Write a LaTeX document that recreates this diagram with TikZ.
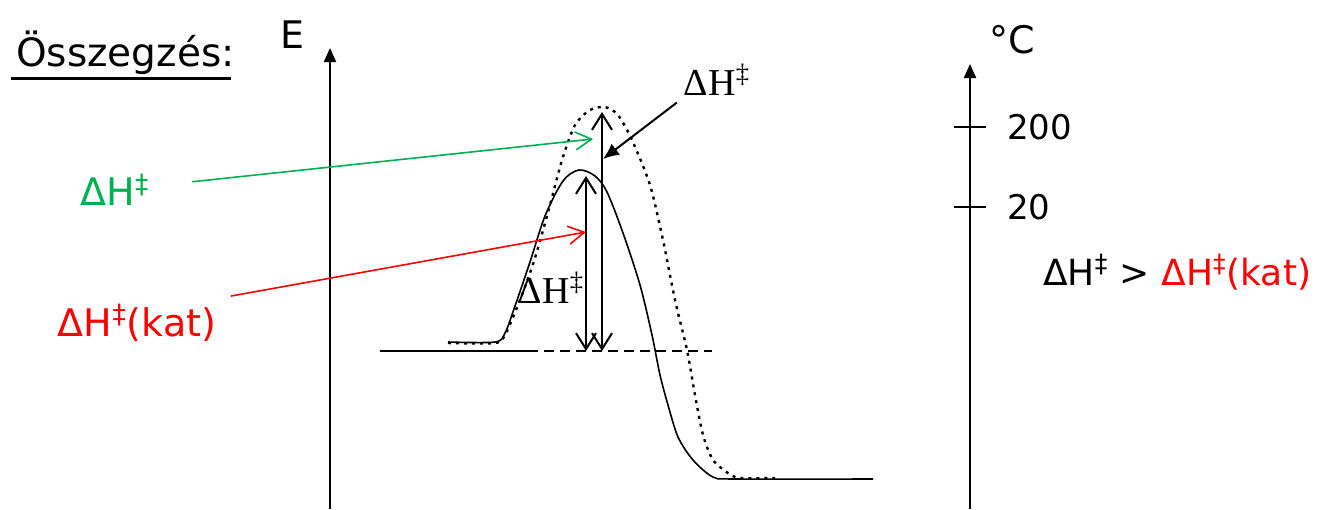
\documentclass[tikz,border=0pt]{standalone}
\usepackage{fontspec}
\setmainfont{DejaVu Sans}
\newfontfamily\serifbetu{Liberation Serif}
\usetikzlibrary{arrows.meta}
\definecolor{zoldColor}{RGB}{0,176,80}

\begin{document}
\begin{tikzpicture}[
    x=0.5pt, y=-0.5pt,
    cimke/.style={
        font=\fontsize{17}{20}\selectfont
    },
    serifcimke/.style={
        font=\serifbetu\fontsize{19}{23}\selectfont
    },
    tengely/.style={
        -{Triangle[length=7pt,width=6pt]},
        line width=1pt
    },
    ketnyil/.style={
        {Straight Barb[length=8pt,width=10pt]}-{Straight Barb[length=8pt,width=10pt]},
        line width=1pt
    },
    nyil/.style={
        -{Straight Barb[length=8pt,width=9pt]},
        line width=0.8pt
    },
    gorbe/.style={
        line width=0.8pt
    }
]
    \useasboundingbox (0,0) rectangle (1318,509);

    % feliratok
    \node[anchor=base west, font=\fontsize{19.5}{24}\selectfont] (cim) at (9,66) {Összegzés:};
    \draw[line width=1.5pt] (cim.base west) ++(2,12) -- ++(220,0);
    \node[cimke, font=\fontsize{19}{22}\selectfont] (elabel) at (293,35) {E};
    \node[cimke, font=\fontsize{19}{22}\selectfont] (clabel) at (1012,40) {°C};
    \node[cimke, anchor=west] (t200) at (1000,127) {200};
    \node[cimke, anchor=west] (t20) at (1000,207) {20};
    \node[cimke, anchor=west, font=\fontsize{18}{21}\selectfont] (osszevet) at (1036,272) {ΔH\textsuperscript{‡} > \textcolor{red}{ΔH\textsuperscript{‡}(kat)}};
    \node[cimke, text=zoldColor, font=\fontsize{19}{22}\selectfont] (dhzold) at (115,190) {ΔH\textsuperscript{‡}};
    \node[cimke, text=red, font=\fontsize{19}{22}\selectfont] (dhpiros) at (137,323) {ΔH\textsuperscript{‡}(kat)};
    \node[serifcimke] (dhfelso) at (717,80) {ΔH\textsuperscript{‡}};
    \node[serifcimke] (dhkozep) at (551,288) {ΔH\textsuperscript{‡}};

    % tengelyek
    \coordinate (eAlja) at (330,509);
    \coordinate (eTeteje) at (330,48);
    \coordinate (cAlja) at (970,509);
    \coordinate (cTeteje) at (970,64);
    \draw[tengely] (eAlja) -- (eTeteje);
    \draw[tengely] (cAlja) -- (cTeteje);
    \draw[line width=0.8pt] (954,127) -- (986,127);
    \draw[line width=0.8pt] (954,207) -- (986,207);

    % alapvonal
    \draw[gorbe] (380,351) -- (528,351);
    \draw[gorbe, dash pattern=on 5pt off 3pt] (528,351) -- (712,351);

    % katalizalt gorbe
    \draw[gorbe] plot[smooth, tension=0.5] coordinates {
        (448,342) (495,342) (505,333) (515,306) (530,262) (545,216) (563,181)
        (579,170) (595,176) (607,192) (623,233) (640,285) (652,335) (660,375)
        (668,405) (678,437) (693,460) (713,477) (735,479) (873,479)};
    % katalizalatlan gorbe
    \draw[line width=1.2pt, dash pattern=on 1.5pt off 2.5pt] plot[smooth, tension=0.45] coordinates {
        (448,343) (495,343) (505,335) (520,300) (535,258) (550,205) (562,160)
        (575,125) (590,110) (605,107) (618,115) (632,140) (650,185) (663,240)
        (675,300) (687,350) (695,395) (703,435) (713,460) (728,473) (740,478) (775,478)};

    % energiakulonbsegek
    \coordinate (felso1) at (602,112);
    \coordinate (also1) at (602,351);
    \coordinate (felso2) at (586,176);
    \coordinate (also2) at (586,351);
    \draw[ketnyil] (also1) -- (felso1);
    \draw[ketnyil] (also2) -- (felso2);

    % mutato nyilak
    \coordinate (zoldcsucs) at (593,139);
    \coordinate (piroscsucs) at (586,232);
    \coordinate (fekcsucs) at (603,159);
    \draw[nyil, zoldColor, shorten <=18pt] (dhzold) -- (zoldcsucs);
    \draw[nyil, red, shorten <=4pt] (dhpiros.north east) -- (piroscsucs);
    \draw[-{Latex[length=8pt,width=7pt]}, line width=1pt] (dhfelso.south west) -- (fekcsucs);

\end{tikzpicture}
\end{document}
